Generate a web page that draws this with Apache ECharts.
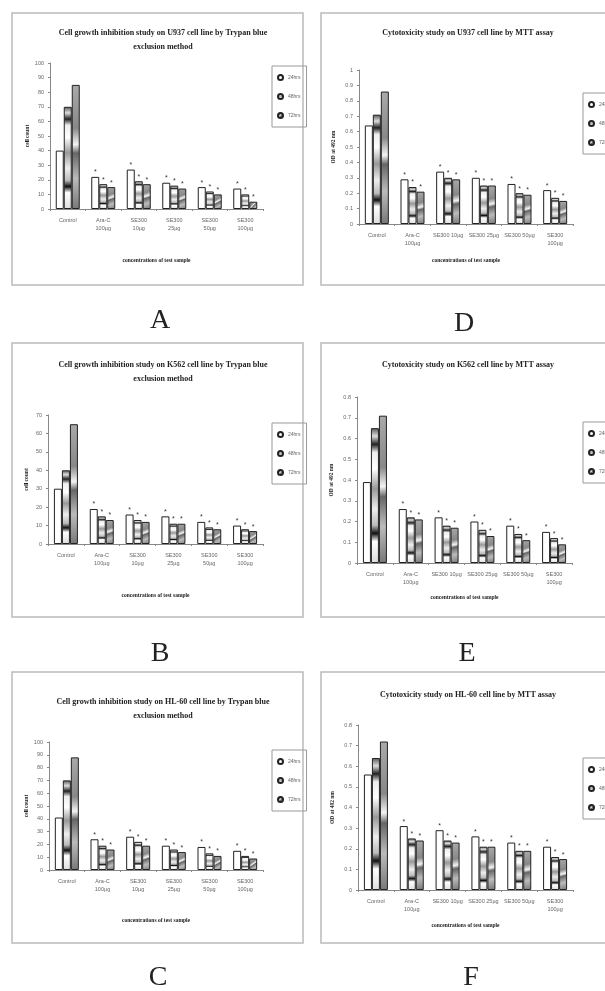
<!DOCTYPE html>
<html><head><meta charset="utf-8">
<script src="https://cdn.jsdelivr.net/npm/echarts@6/dist/echarts.min.js"></script>
<style>html,body{margin:0;padding:0;background:#fff}#c{width:605px;height:991px}</style>
</head><body><div id="c"></div>
<script>
// ---- data ----
const catTrypan = ['Control','Ara-C\n100µg','SE300\n10µg','SE300\n25µg','SE300\n50µg','SE300\n100µg'];
const catMTT = ['Control','Ara-C\n100µg','SE300 10µg','SE300 25µg','SE300 50µg','SE300\n100µg'];
const seriesNames = ['24hrs','48hrs','72hrs'];

const u937Trypan24 = [40,22,27,18,15,14];
const u937Trypan48 = [70,17,19,16,12,10];
const u937Trypan72 = [85,15,17,14,10,5];

const u937MTT24 = [0.64,0.29,0.34,0.30,0.26,0.22];
const u937MTT48 = [0.71,0.24,0.30,0.25,0.20,0.17];
const u937MTT72 = [0.86,0.21,0.29,0.25,0.19,0.15];

const k562Trypan24 = [30,19,16,15,12,10];
const k562Trypan48 = [40,15,13,11,9,8];
const k562Trypan72 = [65,13,12,11,8,7];

const k562MTT24 = [0.39,0.26,0.22,0.20,0.18,0.15];
const k562MTT48 = [0.65,0.22,0.18,0.16,0.14,0.12];
const k562MTT72 = [0.71,0.21,0.17,0.13,0.11,0.09];

const hl60Trypan24 = [41,24,26,19,18,15];
const hl60Trypan48 = [70,19,22,16,13,11];
const hl60Trypan72 = [88,16,19,14,11,9];

const hl60MTT24 = [0.56,0.31,0.29,0.26,0.23,0.21];
const hl60MTT48 = [0.64,0.25,0.24,0.21,0.19,0.16];
const hl60MTT72 = [0.72,0.24,0.23,0.21,0.19,0.15];

const titles = [
  'Cell growth inhibition study on U937 cell line by Trypan blue\nexclusion method',
  'Cytotoxicity study on U937 cell line by MTT assay',
  'Cell growth inhibition study on K562 cell line by Trypan blue\nexclusion method',
  'Cytotoxicity study on K562 cell line by MTT assay',
  'Cell growth inhibition study on HL-60 cell line by Trypan blue\nexclusion method',
  'Cytotoxicity study on HL-60 cell line by MTT assay'
];
const letters = ['A','D','B','E','C','F'];
const yNameTrypan = 'cell count';
const yNameMTT = 'OD at 492 nm';
const xName = 'concentrations of test sample';

// ---- layout ----
const panels = [
  {data:[u937Trypan24,u937Trypan48,u937Trypan72], cats:catTrypan, max:100, interval:10, yName:yNameTrypan,
   grid:{left:50,top:63,width:213,height:146}, box:[12,13,291,272], titleTop:21, titleX:158, legend:[272,66], xGap:49, yGap:18, letter:[160,321]},
  {data:[u937MTT24,u937MTT48,u937MTT72], cats:catMTT, max:1, interval:0.1, yName:yNameMTT,
   grid:{left:359,top:70,width:214,height:154}, box:[321,13,290,272], titleTop:21, titleX:463, legend:[583,93], xGap:34, yGap:22, letter:[464,324]},
  {data:[k562Trypan24,k562Trypan48,k562Trypan72], cats:catTrypan, max:70, interval:10, yName:yNameTrypan,
   grid:{left:48,top:415,width:215,height:129}, box:[12,343,291,274], titleTop:353, titleX:158, legend:[272,423], xGap:49, yGap:18, letter:[160,654]},
  {data:[k562MTT24,k562MTT48,k562MTT72], cats:catMTT, max:0.8, interval:0.1, yName:yNameMTT,
   grid:{left:357,top:397,width:215,height:166}, box:[321,343,290,274], titleTop:353, titleX:463, legend:[583,422], xGap:32, yGap:22, letter:[467,654]},
  {data:[hl60Trypan24,hl60Trypan48,hl60Trypan72], cats:catTrypan, max:100, interval:10, yName:yNameTrypan,
   grid:{left:49,top:742,width:214,height:128}, box:[12,672,291,271], titleTop:690, titleX:158, legend:[272,750], xGap:48, yGap:18, letter:[158,978]},
  {data:[hl60MTT24,hl60MTT48,hl60MTT72], cats:catMTT, max:0.8, interval:0.1, yName:yNameMTT,
   grid:{left:358,top:725,width:215,height:165}, box:[321,672,290,271], titleTop:683, titleX:463, legend:[583,758], xGap:33, yGap:22, letter:[471,978]}
];

const fill48 = new echarts.graphic.LinearGradient(0,0,0,1,[
  {offset:0,color:'#555'},{offset:0.06,color:'#ddd'},{offset:0.12,color:'#222'},{offset:0.18,color:'#eee'},
  {offset:0.3,color:'#fff'},{offset:0.45,color:'#999'},{offset:0.6,color:'#eee'},{offset:0.72,color:'#bbb'},
  {offset:0.78,color:'#111'},{offset:0.84,color:'#fff'},{offset:1,color:'#ddd'}]);
const fill72 = new echarts.graphic.LinearGradient(0,0,1,1,[
  {offset:0,color:'#aaa'},{offset:0.35,color:'#888'},{offset:0.48,color:'#f4f4f4'},{offset:0.55,color:'#666'},
  {offset:0.75,color:'#bbb'},{offset:1,color:'#777'}]);
const styles = [
  {color:'#fff', borderColor:'#222', borderWidth:1},
  {color:fill48, borderColor:'#222', borderWidth:1},
  {color:fill72, borderColor:'#222', borderWidth:1}
];

const axisFont = {fontFamily:'Liberation Sans', fontSize:5.5, color:'#666'};
const serifBold = {fontFamily:'Liberation Serif', fontWeight:'bold', color:'#222'};

const option = {
  animation:false,
  backgroundColor:'#fff',
  title:[], legend:[], grid:[], xAxis:[], yAxis:[], series:[], graphic:[]
};

panels.forEach((p,i)=>{
  option.title.push({text:titles[i], left:p.titleX, top:p.titleTop, textAlign:'center',
    textStyle:Object.assign({fontSize:8, lineHeight:14}, serifBold)});
  option.grid.push(p.grid);
  option.xAxis.push({type:'category', gridIndex:i, data:p.cats,
    name:xName, nameLocation:'middle', nameGap:p.xGap,
    nameTextStyle:Object.assign({fontSize:5.5}, serifBold),
    axisLine:{lineStyle:{color:'#888'}}, axisTick:{show:true, length:2, lineStyle:{color:'#888'}},
    axisLabel:Object.assign({interval:0, margin:7, lineHeight:8}, axisFont)});
  option.yAxis.push({type:'value', gridIndex:i, min:0, max:p.max, interval:p.interval,
    name:p.yName, nameLocation:'middle', nameGap:p.yGap, nameRotate:90,
    nameTextStyle:Object.assign({fontSize:5.5}, serifBold),
    splitLine:{show:false},
    axisLine:{show:true, lineStyle:{color:'#888'}}, axisTick:{show:true, length:2, lineStyle:{color:'#888'}},
    axisLabel:Object.assign({margin:6, formatter:v=>String(Math.round(v*10)/10)}, axisFont)});
  option.legend.push({orient:'vertical', left:p.legend[0], top:p.legend[1], data:seriesNames,
    padding:[8,6,8,5], itemGap:12, itemWidth:5, itemHeight:5, icon:'circle',
    borderColor:'#999', borderWidth:1, textStyle:{fontFamily:'Liberation Sans', fontSize:5, color:'#666'}});
  p.data.forEach((d,k)=>{
    option.series.push({type:'bar', name:seriesNames[k], xAxisIndex:i, yAxisIndex:i, data:d,
      barWidth:8, barGap:'0%', itemStyle:styles[k],
      label:{show:true, position:'top', distance:1, fontSize:7, color:'#333',
        formatter:(o)=>o.dataIndex>0?'*':''}});
  });
  option.graphic.push({type:'rect', shape:{x:p.box[0],y:p.box[1],width:p.box[2],height:p.box[3]},
    style:{fill:'none', stroke:'#bbb', lineWidth:1.5}, z:-1});
  option.graphic.push({type:'text', x:p.letter[0], y:p.letter[1],
    style:{text:letters[i], font:'28px "Liberation Serif"', fill:'#222', textAlign:'center', textVerticalAlign:'middle'}});
});

const chart = echarts.init(document.getElementById('c'));
chart.setOption(option);
</script>
</body></html>
